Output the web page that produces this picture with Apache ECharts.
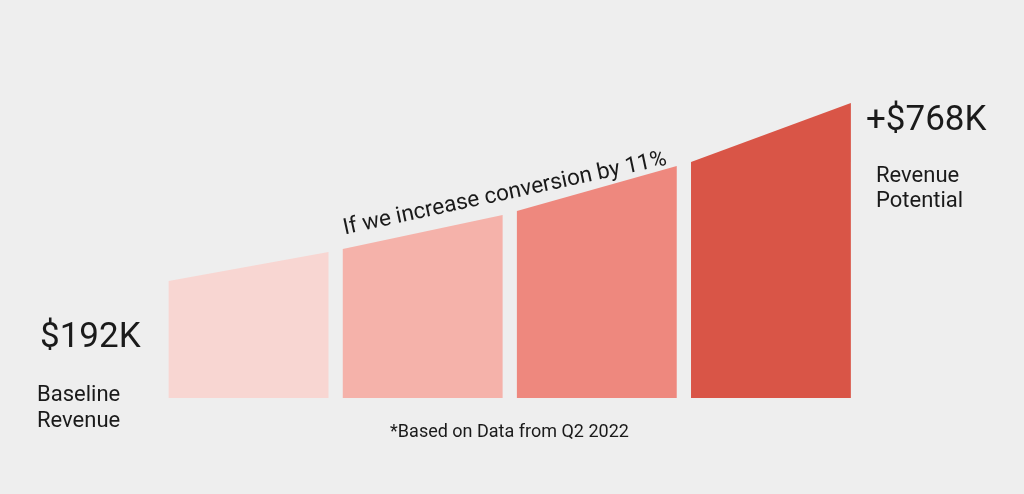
<!DOCTYPE html>
<html><head><meta charset="utf-8">
<script src="https://cdn.jsdelivr.net/npm/echarts@6/dist/echarts.min.js"></script>
<style>html,body{margin:0;padding:0;background:#eeeeee;}#c{width:1024px;height:494px;}</style>
</head><body><div id="c"></div>
<script>
const categories = ['Step 1', 'Step 2', 'Step 3', 'Step 4'];
const startValues = [117, 149, 187, 236];
const endValues = [146, 183, 232, 295];
const barColors = ['#f8d6d2', '#f5b2aa', '#ee887e', '#d95547'];
const baselineValue = '$192K';
const baselineLabel = ['Baseline', 'Revenue'];
const potentialValue = '+$768K';
const potentialLabel = ['Revenue', 'Potential'];
const slopeText = 'If we increase conversion by 11%';
const footnote = '*Based on Data from Q2 2022';

const chart = echarts.init(document.getElementById('c'), null, {renderer: 'canvas'});
const data = categories.map((c, i) => [i, startValues[i], endValues[i]]);
const font = 'Roboto, "Noto Sans", sans-serif';
function txt(s, x, y, size, align) {
  return {type: 'text', x: x, y: y,
    style: {text: s, font: '400 ' + size + 'px ' + font, fill: '#1a1a1a', align: align || 'left', verticalAlign: 'middle'}};
}
chart.setOption({
  backgroundColor: '#eeeeee',
  animation: false,
  grid: {left: 161.5, width: 696.5, top: 98, height: 300},
  xAxis: {type: 'category', data: categories, show: false},
  yAxis: {type: 'value', min: 0, max: 300, show: false},
  series: [{
    type: 'custom',
    data: data,
    renderItem: function (params, api) {
      const idx = api.value(0);
      const center = api.coord([idx, 0]);
      const band = api.size([1, 0])[0];
      const w = band * 0.918;
      const x0 = center[0] - w / 2, x1 = center[0] + w / 2;
      const y0 = api.coord([idx, api.value(1)])[1];
      const y1 = api.coord([idx, api.value(2)])[1];
      const yb = center[1];
      return {
        type: 'polygon',
        shape: {points: [[x0, y0], [x1, y1], [x1, yb], [x0, yb]]},
        style: {fill: barColors[idx]}
      };
    }
  }],
  graphic: [
    txt(baselineValue, 40, 338.5, 35),
    txt(baselineLabel[0], 37, 395, 22),
    txt(baselineLabel[1], 37, 421, 22),
    txt(potentialValue, 866, 121.5, 35),
    txt(potentialLabel[0], 876, 176.5, 22),
    txt(potentialLabel[1], 876, 201, 22),
    Object.assign(txt(slopeText, 505, 194, 22.5, 'center'), {rotation: 12.2 * Math.PI / 180}),
    txt(footnote, 509.5, 432.5, 18, 'center')
  ]
});
</script></body></html>
